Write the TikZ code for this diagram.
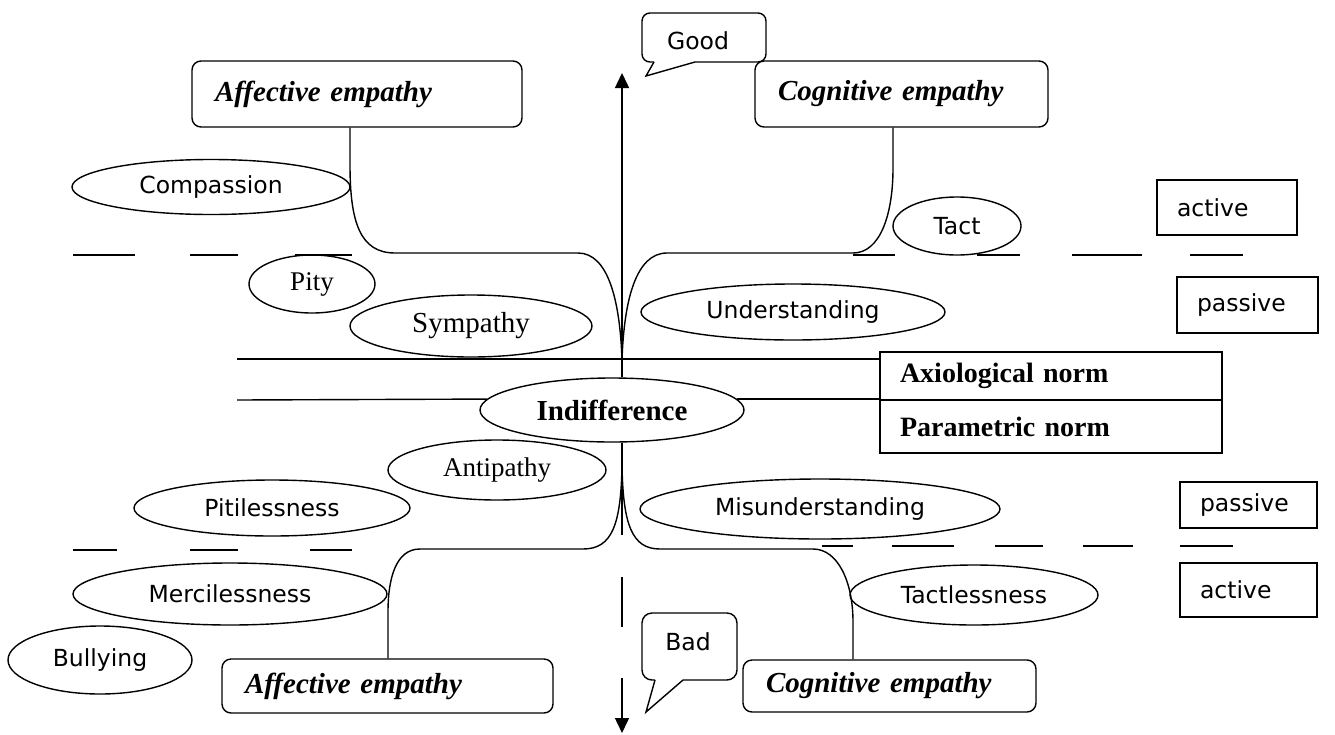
\documentclass[tikz,border=0pt]{standalone}
\usepackage{fontspec}
\setmainfont{Liberation Serif}
\newfontfamily\lblfont{DejaVu Sans}
\usetikzlibrary{shapes.geometric,arrows.meta}
\begin{document}
\begin{tikzpicture}[x=1pt,y=-1pt,line width=1.4pt,
  oval/.style={draw, ellipse, inner sep=0pt, font=\lblfont\fontsize{23.5}{28}\selectfont},
  sovl/.style={draw, ellipse, inner sep=0pt, font=\fontsize{27}{31}\selectfont},
  empbox/.style={draw, rounded corners=9pt, inner xsep=23pt, inner ysep=0pt, align=left,
     font=\bfseries\itshape\fontsize{29}{33}\selectfont},
  tagbox/.style={draw, inner xsep=20pt, inner ysep=0pt, align=left,
     font=\lblfont\fontsize{23.5}{28}\selectfont},
  normbox/.style={draw, inner xsep=20pt, inner ysep=0pt, align=left, text width=302pt,
     font=\bfseries\fontsize{28}{32}\selectfont},
  callout/.style={font=\lblfont\fontsize{23.5}{28}\selectfont, inner sep=0pt},
  dseg/.style={line width=1.4pt},
  tip/.style={-{Triangle[length=15pt,width=14pt]}}
]
\useasboundingbox (0,0) rectangle (1335,734);

% empathy boxes
\node[empbox, text width=284pt, minimum height=66pt] (affT) at (357,94) {Affective empathy};
\node[empbox, text width=247pt, minimum height=66pt] (cogT) at (901.5,94) {Cognitive empathy};
\node[empbox, text width=285pt, minimum height=54pt] (affB) at (387.5,686) {Affective empathy};
\node[empbox, text width=247pt, minimum height=52pt] (cogB) at (889.5,686) {Cognitive empathy};

% active / passive boxes
\node[tagbox, text width=100pt, minimum height=55pt] (actT) at (1227,207.5) {active};
\node[tagbox, text width=101pt, minimum height=56pt] (pasT) at (1247.5,305) {passive};
\node[tagbox, text width=97pt, minimum height=46pt] (pasB) at (1248.5,505) {passive};
\node[tagbox, text width=97pt, minimum height=54pt] (actB) at (1248.5,590) {active};

% norm table
\node[normbox, minimum height=48pt] (axio) at (1051,376) {Axiological norm};
\node[normbox, minimum height=53pt] (param) at (1051,426.5) {Parametric norm};

% ellipses
\node[oval, minimum width=278pt, minimum height=55pt] (comp) at (211,187) {Compassion};
\node[sovl, minimum width=126pt, minimum height=58pt] (pity) at (312,284) {Pity};
\node[sovl, minimum width=242pt, minimum height=62pt, font=\fontsize{29}{33}\selectfont] (symp) at (471,326) {Sympathy};
\node[oval, minimum width=304pt, minimum height=56pt] (und) at (793,312) {Understanding};
\node[oval, minimum width=128pt, minimum height=58pt] (tact) at (957,226) {Tact};
\node[draw, ellipse, inner sep=0pt, minimum width=264pt, minimum height=64pt,
      font=\bfseries\fontsize{29}{33}\selectfont] (indiff) at (612,410) {Indifference};
\node[sovl, minimum width=218pt, minimum height=60pt] (anti) at (497,470) {Antipathy};
\node[oval, minimum width=276pt, minimum height=56pt] (pitil) at (272,508) {Pitilessness};
\node[oval, minimum width=360pt, minimum height=60pt] (misu) at (820,509) {Misunderstanding};
\node[oval, minimum width=314pt, minimum height=62pt] (merc) at (230,594) {Mercilessness};
\node[oval, minimum width=184pt, minimum height=68pt] (bull) at (100,660) {Bullying};
\node[oval, minimum width=248pt, minimum height=60pt] (tactl) at (974,595) {Tactlessness};

% callouts
\node[callout] (good) at (698,41) {Good};
\draw[rounded corners=8pt] (695,62) -- (766,62) -- (766,13) -- (642,13) -- (642,62) -- (654,62);
\draw[line join=miter] (654,62) -- (646,76) -- (695,62);
\node[callout] (bad) at (688,642) {Bad};
\draw[rounded corners=10pt] (683,680) -- (737,680) -- (737,613) -- (642,613) -- (642,680) -- (655,680);
\draw[line join=miter] (655,680) -- (646,712) -- (683,680);

% coordinates
\coordinate (axisx) at (622,0);
\coordinate (jt) at (622,360);
\coordinate (jb) at (622,465);
\coordinate (topTip) at (622,73);
\coordinate (botTip) at (622,733);
\coordinate (aTx) at (350,0);
\coordinate (cTx) at (893,0);
\coordinate (aBx) at (388,0);
\coordinate (cBx) at (853,0);
\coordinate (hl1) at (237,359);
\coordinate (hl2) at (237,400);

% vertical axis
\draw[tip] (indiff.north -| axisx) -- (topTip);
\draw (indiff.south -| axisx) -- (622,535);
\draw (622,577) -- (622,627);
\draw[tip] (622,678) -- (botTip);

% horizontal norm lines
\draw (hl1) -- (hl1 -| axio.west);
\draw (hl2) -- (indiff.175);
\draw (indiff.5) -- (indiff.5 -| param.west);

% connector curves
\draw (affT.south -| aTx) -- (350,165) .. controls (350,222) and (360,253) .. (395,253)
   -- (578,253) .. controls (608,253) and (620,300) .. (jt);
\draw (jt) .. controls (624,300) and (636,253) .. (667,253)
   -- (853,253) .. controls (880,253) and (893,215) .. (893,168) -- (cogT.south -| cTx);
\draw (jb) .. controls (621,525) and (612,549) .. (583,549)
   -- (420,549) .. controls (396,549) and (388,578) .. (388,612) -- (affB.north -| aBx);
\draw (jb) .. controls (623,525) and (632,549) .. (660,549)
   -- (813,549) .. controls (838,549) and (853,582) .. (853,622) -- (cogB.north -| cBx);

% dashed dividers
\foreach \a/\b in {73/135,190/238,295/352,853/895,977/1020,1072/1142,1190/1243}
  \draw[dseg] (\a,255) -- (\b,255);
\foreach \a/\b in {73/117,190/238,310/352}
  \draw[dseg] (\a,550) -- (\b,550);
\foreach \a/\b in {822/853,892/954,995/1043,1083/1133,1180/1233}
  \draw[dseg] (\a,546) -- (\b,546);
\end{tikzpicture}
\end{document}
